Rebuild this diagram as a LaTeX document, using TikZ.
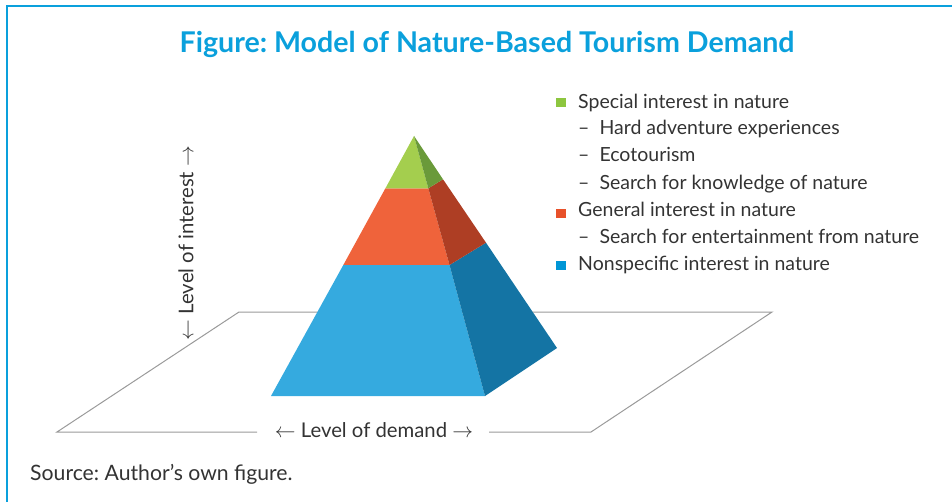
\documentclass[tikz,border=0pt]{standalone}
\usepackage{fontspec}
\setmainfont{Lato}
\frenchspacing
\definecolor{frameblue}{HTML}{0AA0DC}
\definecolor{titleblue}{HTML}{0AA0DC}
\definecolor{txt}{HTML}{333333}
\definecolor{gfront}{HTML}{A4CE4E}
\definecolor{gside}{HTML}{6A9A3A}
\definecolor{rfront}{HTML}{EF633B}
\definecolor{rside}{HTML}{AE3E24}
\definecolor{bfront}{HTML}{35AADF}
\definecolor{bside}{HTML}{1474A4}
\definecolor{lgreen}{HTML}{8DC63F}
\definecolor{lred}{HTML}{E8512A}
\definecolor{lblue}{HTML}{0096D6}
\definecolor{plane}{HTML}{9A9A9A}
\begin{document}
\begin{tikzpicture}[x=1pt,y=-1pt,
  legtext/.style={anchor=base west,inner sep=0pt,text=txt,font=\fontsize{19.5}{22}\selectfont},
  legsq/.style={minimum width=10pt,minimum height=9pt,inner sep=0pt},
  axislabel/.style={inner sep=0pt,text=txt,font=\fontsize{20.3}{24}\selectfont},
  planeline/.style={draw=plane,line width=1pt}]
\useasboundingbox (0,0) rectangle (952,502);
% frame
\draw[frameblue,line width=1.6pt] (7,502) -- (7,6) -- (952,6);
% title
\node[text=titleblue,font=\fontsize{28.6}{32}\bfseries\selectfont,inner sep=0pt] (title) at (487,44) {Figure: Model of Nature-Based Tourism Demand};
% plane
\coordinate (p1) at (239,312);
\coordinate (p2) at (772,312);
\coordinate (p3) at (591,432);
\coordinate (p4) at (57,432);
\coordinate (g1) at (257,432);
\coordinate (g2) at (489,432);
\draw[planeline] (g1) -- (p4) -- (p1) -- (p2) -- (p3) -- (g2);
\node[axislabel] (demand) at (374,430) {$\leftarrow$ Level of demand $\rightarrow$};
\node[axislabel,rotate=90] (interest) at (186,243) {$\leftarrow$ Level of interest $\rightarrow$};
% pyramid
\coordinate (apex) at (414,136);
\coordinate (gl) at (385.4,188.3);
\coordinate (gm) at (428.3,188.3);
\coordinate (gr) at (443,179.3);
\coordinate (rl) at (343.3,265);
\coordinate (rm) at (449.5,265);
\coordinate (rr) at (486,242.7);
\coordinate (bl) at (271,396);
\coordinate (bm) at (485,396);
\coordinate (br) at (557,348);
\fill[bfront] (rl) -- (rm) -- (bm) -- (bl) -- cycle;
\fill[bside] (rm) -- (rr) -- (br) -- (bm) -- cycle;
\fill[rfront] (gl) -- (gm) -- (rm) -- (rl) -- cycle;
\fill[rside] (gm) -- (gr) -- (rr) -- (rm) -- cycle;
\fill[gfront] (apex) -- (gm) -- (gl) -- cycle;
\fill[gside] (apex) -- (gr) -- (gm) -- cycle;
% legend
\node[legsq,fill=lgreen] (sq1) at (561,102.5) {};
\node[legsq,fill=lred] (sq2) at (561,214) {};
\node[legsq,fill=lblue] (sq3) at (561,266) {};
\node[legtext] (l1) at (578,108.3) {Special interest in nature};
\node[legtext] (l2) at (578,134.3) {–\hspace{10pt}Hard adventure experiences};
\node[legtext] (l3) at (578,161.7) {–\hspace{10pt}Ecotourism};
\node[legtext] (l4) at (578,189.3) {–\hspace{10pt}Search for knowledge of nature};
\node[legtext] (l5) at (578,216.7) {General interest in nature};
\node[legtext] (l6) at (578,244) {–\hspace{10pt}Search for entertainment from nature};
\node[legtext] (l7) at (578,270.7) {Nonspecific interest in nature};
% source
\node[anchor=west,inner sep=0pt,text=txt,font=\fontsize{21.2}{24}\selectfont] (src) at (30,474) {Source: Author’s own figure.};
\end{tikzpicture}
\end{document}
